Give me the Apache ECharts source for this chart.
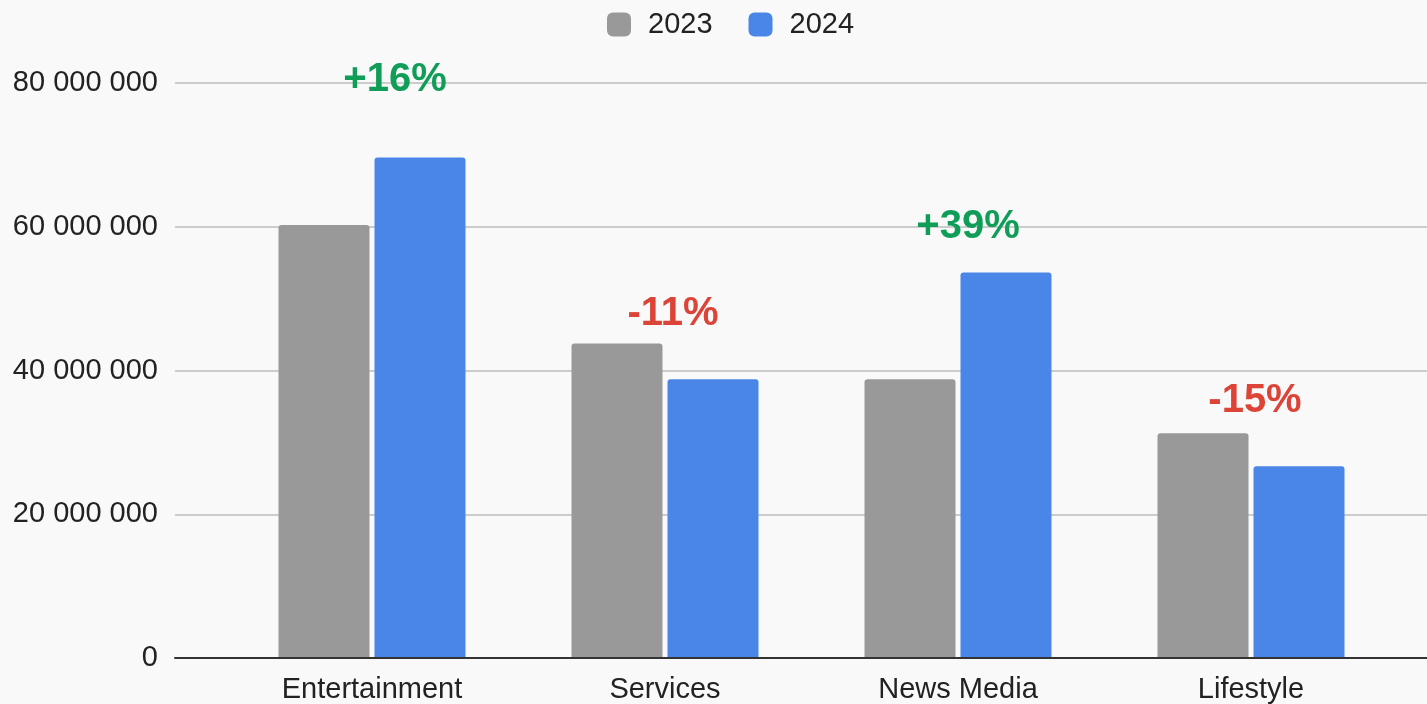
<!DOCTYPE html>
<html>
<head>
<meta charset="utf-8">
<script src="https://cdn.jsdelivr.net/npm/echarts@6/dist/echarts.min.js"></script>
<style>
html,body{margin:0;padding:0;background:#f9f9f9;}
#c{width:1427px;height:704px;}
</style>
</head>
<body>
<div id="c"></div>
<script>
const categories = ['Entertainment', 'Services', 'News Media', 'Lifestyle'];
const values2023 = [60200000, 43700000, 38700000, 31200000];
const values2024 = [69600000, 38700000, 53600000, 26600000];
const changeLabels = ['+16%', '-11%', '+39%', '-15%'];
const changeLabelY = [80400000, 47800000, 59900000, 35700000];
const yTicks = [0, 20000000, 40000000, 60000000, 80000000];

const GREEN = '#0f9d58';
const RED = '#db4437';
const fontFam = '"Liberation Sans", Arial, sans-serif';

function fmt(v) {
  return String(v).replace(/\B(?=(\d{3})+(?!\d))/g, ' ');
}

const chart = echarts.init(document.getElementById('c'));
chart.setOption({
  backgroundColor: '#f9f9f9',
  animation: false,
  textStyle: { fontFamily: fontFam },
  legend: {
    top: 5,
    left: 602,
    itemWidth: 24,
    itemHeight: 24,
    itemGap: 36,
    textStyle: { fontSize: 29, color: '#222', fontFamily: fontFam, padding: [0, 0, 0, 12] },
    data: [
      { name: '2023', icon: 'roundRect' },
      { name: '2024', icon: 'roundRect' }
    ]
  },
  grid: [
    { left: 175, right: 0, top: 83, bottom: 46, containLabel: false },
    { left: 225.5, width: 1172, top: 83, bottom: 46, containLabel: false }
  ],
  xAxis: [
    {
      gridIndex: 0, type: 'category', data: [''],
      axisLine: { show: true, lineStyle: { color: '#333', width: 2 } },
      axisTick: { show: false }, axisLabel: { show: false }, splitLine: { show: false }
    },
    {
      gridIndex: 1, type: 'category', data: categories,
      axisLine: { show: false }, axisTick: { show: false },
      axisLabel: { fontSize: 29, color: '#222', margin: 18, fontFamily: fontFam }
    }
  ],
  yAxis: [
    {
      gridIndex: 0, type: 'value', min: 0, max: 80000000, interval: 20000000,
      axisLine: { show: false }, axisTick: { show: false },
      axisLabel: { fontSize: 29, color: '#222', margin: 17, fontFamily: fontFam, formatter: v => fmt(v) },
      splitLine: { show: true, lineStyle: { color: '#cccccc', width: 2 } }
    },
    {
      gridIndex: 1, type: 'value', min: 0, max: 80000000, interval: 20000000,
      show: false, splitLine: { show: false }
    }
  ],
  series: [
    {
      name: '2023', type: 'bar', xAxisIndex: 1, yAxisIndex: 1,
      data: values2023, barWidth: 91, barGap: '5.5%',
      itemStyle: { color: '#999999', borderRadius: [3, 3, 0, 0] }
    },
    {
      name: '2024', type: 'bar', xAxisIndex: 1, yAxisIndex: 1,
      data: values2024, barWidth: 91,
      itemStyle: { color: '#4a86e8', borderRadius: [3, 3, 0, 0] }
    },
    {
      name: 'change', type: 'scatter', xAxisIndex: 1, yAxisIndex: 1,
      symbolSize: 1, silent: true, clip: false,
      itemStyle: { opacity: 0 },
      data: changeLabelY.map((v, i) => ({
        value: [categories[i], v],
        label: {
          formatter: changeLabels[i],
          color: changeLabels[i].startsWith('-') ? RED : GREEN,
          offset: [[23, 8, 10, 4][i], 0]
        }
      })),
      label: {
        show: true, position: 'inside', fontSize: 40, fontWeight: 'bold', fontFamily: fontFam, opacity: 1
      }
    }
  ]
});
</script>
</body>
</html>
